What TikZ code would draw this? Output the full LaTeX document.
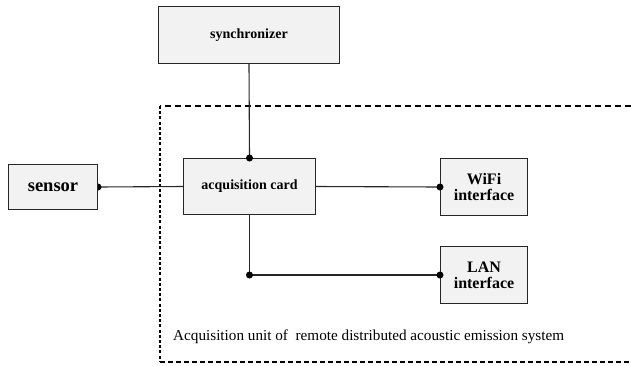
\documentclass[tikz,border=0pt]{standalone}
\usepackage{fontspec}
\setmainfont{Liberation Serif}
\begin{document}
\begin{tikzpicture}[x=1pt,y=-1pt,
  box/.style={draw=black!85, line width=1pt, fill=black!5, font=\bfseries, align=center, inner sep=0pt, anchor=north west},
  conn/.style={line width=1.1pt, black!85},
  jdot/.style={circle, fill=black, inner sep=0pt, minimum size=7pt}]
\useasboundingbox (0,0) rectangle (631,365);
\fill[white] (0,0) rectangle (631,365);
% dashed unit border
\draw[line width=2.4pt, dash pattern=on 6pt off 4pt] (631,106) -- (160,106);
\draw[line width=2.6pt, dash pattern=on 3pt off 2.2pt] (160,106) -- (160,362);
\draw[line width=1.3pt, dash pattern=on 5pt off 3pt] (160,362) -- (631,362);
% boxes
\node[box, minimum width=181pt, minimum height=57pt, font=\bfseries\fontsize{14}{16}\selectfont] (sync) at (158,6) {synchronizer};
\node[box, minimum width=89pt, minimum height=45pt, font=\bfseries\fontsize{18.5}{20}\selectfont] (sensor) at (8,164) {sensor};
\node[box, minimum width=132pt, minimum height=56pt, font=\bfseries\fontsize{14}{16}\selectfont] (acq) at (183,158) {acquisition card};
\node[box, minimum width=87pt, minimum height=57pt, font=\bfseries\fontsize{16}{18}\selectfont] (wifi) at (440,158) {WiFi\\[-2pt]interface};
\node[box, minimum width=87pt, minimum height=57pt, font=\bfseries\fontsize{16}{18}\selectfont] (lan) at (440,246) {LAN\\[-2pt]interface};
% connectors
\coordinate (j) at (acq.south |- lan.west);
\draw[conn] (sync.south) -- (acq.north);
\draw[conn] (sensor.east) -- (acq.west);
\draw[conn] (acq.east) -- (wifi.west);
\draw[conn] (acq.south) -- (j) -- (lan.west);
\node[jdot] at (acq.north) {};
\node[jdot] at (wifi.west) {};
\node[jdot] at (lan.west) {};
\node[jdot] at (j) {};
\begin{scope}
\clip (sensor.north east) rectangle ([xshift=4pt]sensor.south east);
\node[jdot] at (sensor.east) {};
\end{scope}
% label
\node[anchor=west, font=\fontsize{15.2}{17}\selectfont, inner sep=0pt] (lbl) at (173,337) {Acquisition unit of~ remote distributed acoustic emission system};
\end{tikzpicture}
\end{document}
